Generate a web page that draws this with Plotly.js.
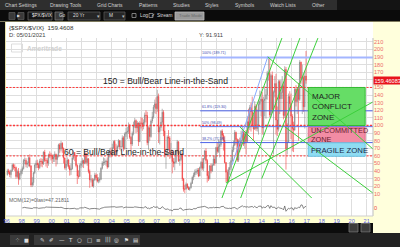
<!DOCTYPE html>
<html><head><meta charset="utf-8">
<script src="https://cdn.plot.ly/plotly-3.0.1.min.js"></script>
<style>html,body{margin:0;padding:0;background:#1c1c1c;overflow:hidden}#c{width:400px;height:247px}</style>
</head><body><div id="c"></div>
<script>
// ---- DATA (monthly $SPX/$VIX, Jan 1997 - Dec 2016) ----
const years = [1997,1998,1999,2000,2001,2002,2003,2004,2005,2006,2007,2008,2009,2010,2011,2012,2013,2014,2015,2016];
const open = [
35.4,40.3,38.8,35.4,40.9,48.2,44.9,44.6,32.8,39.5,29.5,36.7,
40.4,43.4,54.1,54.2,48.9,50.5,57.5,46.7,21.6,24.9,37.9,47.9,
50.4,48.7,44.4,53.2,52.6,49.8,65.0,54.0,53.9,50.5,61.4,61.2,
59.7,55.9,58.5,62.1,55.4,60.1,74.5,69.0,76.5,69.8,57.2,44.3,
49.2,54.6,45.9,41.4,43.1,57.1,64.4,60.6,47.3,33.6,33.1,47.5,
49.9,53.8,50.3,63.7,51.3,56.2,39.6,28.5,28.6,20.4,28.6,34.7,
31.4,26.8,28.0,29.2,43.7,50.7,51.3,52.1,53.1,45.3,65.7,66.1,
61.8,70.7,79.0,67.4,65.1,72.3,79.8,72.0,72.2,83.8,69.3,88.9,
91.1,92.3,99.5,84.4,75.6,89.5,99.3,106.4,96.8,103.3,78.9,103.2,
103.1,98.8,104.1,113.6,113.0,77.4,96.9,85.4,106.0,111.5,124.1,128.5,
122.2,138.3,91.4,97.3,104.4,117.3,92.8,61.9,63.0,84.8,83.7,64.7,
65.2,52.6,50.2,51.7,66.6,78.7,53.6,55.3,62.0,29.6,16.2,16.2,
22.6,18.4,15.9,18.1,23.9,31.8,34.8,38.1,39.3,41.3,33.7,44.7,
51.4,43.7,56.6,66.4,54.0,34.0,29.9,46.9,40.3,48.1,55.8,50.3,
70.9,65.9,72.3,74.9,92.5,87.1,80.1,51.2,38.6,26.3,41.8,44.9,
53.8,67.6,74.2,90.8,81.5,54.4,79.7,72.8,80.5,91.6,75.9,89.2,
79.1,104.9,97.7,123.5,118.2,100.1,95.3,125.4,96.0,101.3,127.8,131.8,
134.7,96.9,132.8,134.9,140.5,168.8,169.4,113.9,165.7,120.9,143.8,155.1,
107.2,95.1,157.8,135.2,143.4,152.2,113.2,173.6,69.4,78.4,138.0,129.0,
112.2,96.0,94.0,147.7,131.5,147.8,134.3,183.2,161.8,163.1,124.6,165.0];
const high = [
43,43,41,42,50,50,49,46,42,44,38,43,
46,56,58,57,53,59,62,48,32,39,50,54,
55,51,56,57,56,66,68,57,57,63,66,64,
62,62,66,63,62,76,77,80,78,71,58,54,
58,56,48,50,60,67,65,61,49,41,50,53,
57,55,66,64,58,57,42,35,31,30,38,37,
36,32,38,45,53,58,57,55,58,67,70,71,
76,80,81,76,74,82,81,80,87,86,91,97,
98,104,102,86,92,105,110,108,106,104,106,111,
110,108,117,120,118,99,99,108,118,127,134,137,
147,142,100,111,122,120,100,67,87,94,86,77,
68,57,58,68,81,79,60,66,64,31,22,25,
24,20,19,26,33,38,42,43,44,44,46,53,
57,57,68,70,56,40,48,50,50,60,60,72,
78,82,80,94,95,90,86,52,42,45,52,58,
72,80,94,92,83,82,84,93,98,93,92,94,
112,122,127,130,138,114,132,128,121,133,146,145,
144,138,152,148,172,190,188,168,171,146,165,168,
125,160,160,160,165,157,178,177,103,142,145,142,
115,105,150,153,150,156,186,184,180,166,172,198];
const low = [
34,36,32,31,39,42,40,30,31,22,28,34,
36,42,49,45,44,46,45,19,19,21,36,44,
44,41,43,46,45,48,52,46,44,47,57,54,
50,52,52,46,49,58,64,66,64,50,42,41,
46,43,34,35,42,55,53,45,23,30,32,44,
45,44,49,49,47,37,18,25,19,18,27,28,
25,24,25,28,42,47,48,47,43,45,58,58,
60,69,60,60,60,71,68,66,71,66,68,85,
82,89,82,66,73,87,97,90,91,73,78,96,
93,95,101,104,74,68,80,84,103,109,116,115,
118,77,75,93,100,86,58,43,60,69,56,57,
37,45,41,50,63,52,47,53,27,13,11,16,
17,15,14,17,23,28,32,35,36,32,33,43,
41,40,55,50,25,27,29,37,39,47,47,50,
63,64,58,72,82,67,50,25,26,24,35,41,
52,65,73,75,52,52,65,70,80,73,70,62,
78,90,94,92,98,80,94,93,92,88,120,112,
88,87,112,109,134,159,111,111,117,62,137,88,
86,92,115,118,135,108,110,42,62,77,121,82,
66,65,93,125,115,80,132,155,115,118,96,155];
const close = [
40.3,38.8,35.4,40.9,48.2,44.9,44.6,32.8,39.5,29.5,36.7,40.4,
43.4,54.1,54.2,48.9,50.5,57.5,46.7,21.6,24.9,37.9,47.9,50.4,
48.7,44.4,53.2,52.6,49.8,65.0,54.0,53.9,50.5,61.4,61.2,59.7,
55.9,58.5,62.1,55.4,60.1,74.5,69.0,76.5,69.8,57.2,44.3,49.2,
54.6,45.9,41.4,43.1,57.1,64.4,60.6,47.3,33.6,33.1,47.5,49.9,
53.8,50.3,63.7,51.3,56.2,39.6,28.5,28.6,20.4,28.6,34.7,31.4,
26.8,28.0,29.2,43.7,50.7,51.3,52.1,53.1,45.3,65.7,66.1,61.8,
70.7,79.0,67.4,65.1,72.3,79.8,72.0,72.2,83.8,69.3,88.9,91.1,
92.3,99.5,84.4,75.6,89.5,99.3,106.4,96.8,103.3,78.9,103.2,103.1,
98.8,104.1,113.6,113.0,77.4,96.9,85.4,106.0,111.5,124.1,128.5,122.2,
138.3,91.4,97.3,104.4,117.3,92.8,61.9,63.0,84.8,83.7,64.7,65.2,
52.6,50.2,51.7,66.6,78.7,53.6,55.3,62.0,29.6,16.2,16.2,22.6,
18.4,15.9,18.1,23.9,31.8,34.8,38.1,39.3,41.3,33.7,44.7,51.4,
43.7,56.6,66.4,54.0,34.0,29.9,46.9,40.3,48.1,55.8,50.3,70.9,
65.9,72.3,74.9,92.5,87.1,80.1,51.2,38.6,26.3,41.8,44.9,53.8,
67.6,74.2,90.8,81.5,54.4,79.7,72.8,80.5,91.6,75.9,89.2,79.1,
104.9,97.7,123.5,118.2,100.1,95.3,125.4,96.0,101.3,127.8,131.8,134.7,
96.9,132.8,134.9,140.5,168.8,169.4,113.9,165.7,120.9,143.8,155.1,107.2,
95.1,157.8,135.2,143.4,152.2,113.2,173.6,69.4,78.4,138.0,129.0,112.2,
96.0,94.0,147.7,131.5,147.8,134.3,183.2,161.8,163.1,124.6,165.0,159.46];
const tickYears = [1997,1998,1999,2000,2001,2002,2003,2004,2005,2006,2007,2008,2009,2010,2011,2012,2013,2014,2015,2016,2017,2018,2019,2020,2021];
const tickLabels = ["96","98","99","00","01","02","03","04","05","06","07","08","09","10","11","12","13","14","15","16","17","18","19","20","21"];
const priceTicks = [10,20,30,40,50,60,70,80,90,100,110,120,130,140,150,160,170,180,190,200,210];
const lastPrice = 159.46083;
const momPeriod = 12;

// ---- helpers ----
const pad = n => (n < 10 ? '0' : '') + n;
const months = [];
years.forEach(y => { for (let m = 1; m <= 12; m++) months.push(y + '-' + pad(m) + '-15'); });
const mom = [], momX = [];
for (let i = momPeriod; i < close.length; i++) { mom.push(close[i] - close[i - momPeriod]); momX.push(months[i]); }
const yd = f => { const y = Math.floor(f); const d = new Date(Date.UTC(y,0,1) + (f - y) * 365.25 * 864e5); return d.toISOString().slice(0,10); };

const L = 6, R = 373, T = 38, B = 216;
const X = px => (px - L) / (R - L);
const Y = py => (B - py) / (B - T);
const shapes = [], ann = [];
function rect(x0, y0, x1, y1, fill, lc, layer) {
  shapes.push({type:'rect', xref:'paper', yref:'paper', x0:X(x0), x1:X(x1), y0:Y(y1), y1:Y(y0),
    fillcolor:fill, line:{width: lc ? 0.8 : 0, color: lc || fill}, layer: layer || 'below'});
}
function txt(px, py, s, size, color, opts) {
  opts = opts || {};
  ann.push(Object.assign({xref:'paper', yref:'paper', x:X(px), y:Y(py), text:s, showarrow:false,
    xanchor:'left', yanchor:'middle', font:{size:size, color:color, family: opts.family || 'Liberation Sans, Arial, sans-serif'}}, opts.extra || {}));
}
function dline(t0, v0, t1, v1, color, width, dash) {
  shapes.push({type:'line', xref:'x', yref:'y', x0:yd(t0), y0:v0, x1:yd(t1), y1:v1,
    line:{color:color, width:width || 1, dash: dash || 'solid'}, layer:'above'});
}
function hline(v, t0, color, width, dash) {
  shapes.push({type:'line', xref:(t0 == null ? 'paper' : 'x'), yref:'y', x0:(t0 == null ? 0 : yd(t0)), x1:(t0 == null ? 1 : yd(2021.5)), y0:v, y1:v,
    line:{color:color, width:width, dash:dash || 'solid'}, layer:'above'});
}
function zone(t0, t1, v0, v1, fill, lc) {
  shapes.push({type:'rect', xref:'x', yref:'y', x0:yd(t0), x1:yd(t1), y0:v0, y1:v1, fillcolor:fill, line:{color:lc, width:1}, layer:'above'});
}

// ---- window chrome ----
rect(0, 0, 400, 10, '#2e2e2e');
rect(337, 0, 400, 10, '#141414');
rect(0, 10, 400, 21.5, '#0b0b0b');
rect(0, 21.5, 400, 247, '#e9e2a8');
rect(6, 22, 373, 216, '#ffffff');
rect(373, 22, 400, 233, '#ffffdc');
rect(6, 216, 373, 223, '#ffffd2');
rect(0, 223, 373, 233, '#0c0c0c');
rect(0, 22, 5, 247, '#0c0c0c');
rect(349, 223.5, 358, 232, '#3c3c3c', '#777');
rect(361, 223.5, 370, 232, '#3c3c3c', '#777');
rect(0, 233, 400, 247, '#222222');
rect(10, 235, 29, 245, '#3a3a3a');
rect(34, 235, 140, 245, '#3a3a3a');
const menu = [[3,'Chart Settings'],[48,'Drawing Tools'],[95,'Grid Charts'],[137,'Patterns'],[171,'Studies'],[203,'Styles'],[233,'Symbols'],[268,'Watch Lists'],[310,'Other']];
menu.forEach(m => txt(m[0], 5, m[1], 5, '#cfcfcf'));
rect(9, 12.5, 15, 19.5, '#3a3a3a', '#555');
rect(18, 12.5, 24, 19.5, '#3a3a3a', '#555');
txt(19.2, 16, '▶', 4, '#ddd', {extra:{xanchor:'center'}});
rect(28, 12, 52, 20, '#151515', '#666');
txt(30, 16, '$PX/$VIX', 4.6, '#e8e8e8');
rect(55, 12, 63, 20, '#3a3a3a', '#777');
txt(56.5, 16, 'Go', 4.6, '#ddd');
rect(68, 12, 100, 20, '#262626', '#555');
txt(71, 16, '20 Yr', 4.8, '#ddd');
txt(95, 16, '▾', 5, '#bbb');
rect(104, 12, 125, 20, '#262626', '#555');
txt(107, 16, 'M', 4.8, '#ddd');
txt(120, 16, '▾', 5, '#bbb');
rect(132, 13.5, 136, 17.5, '#0b0b0b', '#999');
txt(138, 16, 'Log', 4.8, '#ddd');
rect(149, 13.5, 153, 17.5, '#0b0b0b', '#999');
txt(149.3, 15.5, '✓', 4.5, '#ddd');
txt(155, 16, 'Stream', 4.8, '#ddd');
rect(175, 12, 204, 20, '#9a9a9a', '#bbb');
txt(177, 16, 'Trade Mode', 4.3, '#6a6a6a');
const icons = ['✎','✐','—','T','○','□','≡','|||','◎','⚑','▤'];
icons.forEach((c, i) => txt(38 + i * 9.3, 240, c, 5.5, '#e0e0e0', {family:'DejaVu Sans'}));
txt(13, 240, '⁘', 6, '#ccc', {family:'DejaVu Sans'});
txt(22, 240, '■', 5, '#ddd', {family:'DejaVu Sans'});

// ---- header texts ----
txt(7, 27.5, '{$SPX/$VIX}  159.4608', 6.2, '#333');
txt(7, 35, 'D: 05/01/2021', 5.8, '#444');
txt(197, 35, 'Y: 91.911', 5.8, '#444');
rect(11.5, 44, 22.5, 52, '#ffffff', '#d4d4d4');
txt(24.5, 48, '<b>Ameritrade</b>', 6.6, '#d0d0d0');
txt(7, 199.5, 'MOM(12)=0last=47.21811', 5.2, '#666');

// ---- drawings on the price pane ----
const RED = '#ff3a3a';
hline(150, null, RED, 1, '2px,1.5px');
hline(100, null, RED, 1.3, '2px,1.5px');
hline(60, null, RED, 1, '2px,1.5px');
hline(189.5, 2009.9, '#a3b6ff', 2);
hline(119.3, 2009.9, '#4d63e8', 1);
hline(98.5, 2009.9, '#6070e8', 1);
hline(77.5, 2009.9, '#4d63e8', 1);
const fibTxt = [[189.5,'100% (189.71)'],[119.3,'61.8% (119.30)'],[98.5,'50% (98.49)'],[77.5,'38.2% (77.58)']];
fibTxt.forEach(f => ann.push({xref:'x', yref:'y', x:yd(2009.9), y:f[0], text:f[1], showarrow:false, xanchor:'left', yanchor:'bottom',
  font:{size:3.6, color:'#3a4ab0', family:'Liberation Sans, Arial'}}));

zone(2017.1, 2020.9, 100, 150, '#66dd66', '#33bb33');
zone(2017.1, 2020.9, 77.2, 97.5, '#f28ca4', '#e06e8a');
zone(2017.1, 2020.9, 59.5, 77.2, '#8fdcf2', '#66c4e4');

// green trend lines
const G = '#3ccf3c';
dline(2011.30, 2, 2015.35, 215, G, 1);
dline(2012.55, 2, 2016.55, 215, G, 1);
dline(2014.00, 30, 2017.75, 215, G, 1);
dline(2012.02, 48, 2014.42, 191.4, '#88aaff', 1);
dline(2014.42, 190, 2021.42, 69, G, 1);
dline(2011.62, 24.3, 2021.42, 131, G, 1);
dline(2012.55, 98, 2017.62, -1, G, 1);
dline(2015.56, 98, 2021.42, 11, G, 1);

// text labels
const tfont = (c, s) => ({size:s, color:c, family:'Liberation Sans, Arial, sans-serif'});
ann.push({xref:'paper', yref:'paper', x:X(101), y:Y(81), text:'150 = Bull/Bear Line-in-the-Sand', showarrow:false, xanchor:'left', yanchor:'middle', font:tfont('#222', 8.6)});
ann.push({xref:'paper', yref:'paper', x:X(62), y:Y(151.5), text:'60 = Bull/Bear Line-in-the-Sand', showarrow:false, xanchor:'left', yanchor:'middle', font:tfont('#222', 8.6)});
ann.push({xref:'paper', yref:'paper', x:X(310), y:Y(106.5), text:'MAJOR<br>CONFLICT<br>ZONE', showarrow:false, xanchor:'left', yanchor:'middle', align:'left', font:tfont('#222', 8)});
ann.push({xref:'paper', yref:'paper', x:X(309), y:Y(135.3), text:'UN-COMMITTED<br>ZONE', showarrow:false, xanchor:'left', yanchor:'middle', align:'left', font:tfont('#6a2030', 7.3)});
ann.push({xref:'paper', yref:'paper', x:X(309), y:Y(150), text:'FRAGILE ZONE', showarrow:false, xanchor:'left', yanchor:'middle', align:'left', font:tfont('#1a2a4a', 7.8)});
ann.push({xref:'paper', yref:'y', x:1, y:lastPrice, text:lastPrice.toFixed(5), showarrow:false, xanchor:'left', yanchor:'middle',
  bgcolor:'#e8141c', borderpad:0.5, font:{size:5.6, color:'#ffffff', family:'Liberation Sans, Arial'}});

// ---- traces ----
const traces = [
  {type:'candlestick', x:months, open:open, high:high, low:low, close:close, xaxis:'x', yaxis:'y',
   increasing:{line:{color:'#858585', width:0.6}, fillcolor:'#a2a2a2'},
   decreasing:{line:{color:'#f23c3c', width:0.6}, fillcolor:'#f23c3c'}, whiskerwidth:0, hoverinfo:'skip'},
  {type:'scatter', mode:'lines', x:momX, y:mom, xaxis:'x', yaxis:'y2', line:{color:'#555', width:0.7}, hoverinfo:'skip'}
];

const layout = {
  width:400, height:247, margin:{l:L, r:400 - R, t:T, b:247 - B},
  paper_bgcolor:'#1c1c1c', plot_bgcolor:'#ffffff', showlegend:false, hovermode:false,
  xaxis:{type:'date', anchor:'y2', range:[yd(1996.953), yd(2021.42)], rangeslider:{visible:false},
    tickvals:tickYears.map(y => y + '-01-01'), ticktext:tickLabels, ticks:'', showgrid:true, gridcolor:'#dedede', gridwidth:1,
    tickfont:{size:5.6, color:'#5a64e6', family:'Liberation Sans, Arial'}, zeroline:false, showline:false, fixedrange:true},
  yaxis:{domain:[(B - 198) / (B - T), 1], range:[4.6, 215.1], side:'right', anchor:'x', tickvals:priceTicks,
    ticktext:priceTicks.map(v => (Math.abs(v - lastPrice) < 5 ? '' : String(v))),
    ticks:'', showgrid:true, gridcolor:'#dedede', zeroline:false, showline:false,
    tickfont:{size:5.6, color:'#ee6b6b', family:'Liberation Sans, Arial'}, fixedrange:true},
  yaxis2:{domain:[0, (B - 199) / (B - T)], range:[-235, 265], side:'right', anchor:'x', tickvals:[0], ticktext:['0'], ticks:'', showgrid:false,
    zeroline:false, showline:false, tickfont:{size:5.6, color:'#ee4444', family:'Liberation Sans, Arial'}, fixedrange:true},
  shapes:shapes.concat([
    {type:'line', xref:'paper', yref:'paper', x0:1, x1:1, y0:0, y1:1, line:{color:'#bdbdbd', width:1}},
    {type:'line', xref:'paper', yref:'paper', x0:0, x1:1, y0:0, y1:0, line:{color:'#cfcfcf', width:1}}
  ]),
  annotations:ann
};
Plotly.newPlot('c', traces, layout, {staticPlot:true, displayModeBar:false});
</script></body></html>
